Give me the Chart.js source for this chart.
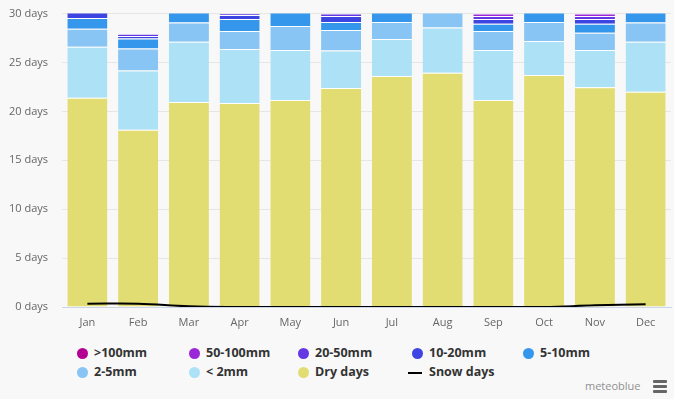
<!DOCTYPE html>
<html>
<head>
<meta charset="utf-8">
<script src="https://cdn.jsdelivr.net/npm/chart.js@4"></script>
<style>
  html, body { margin: 0; padding: 0; background: #f8f8f8; }
  #wrap { position: relative; width: 674px; height: 399px; background: #f8f8f8; font-family: "Open Sans", sans-serif; overflow: hidden; }
  #box { position: absolute; left: 0; top: -7px; width: 674px; height: 349px; }
  #legend { position: absolute; left: 0; top: 345px; width: 674px; }
  .item { position: absolute; font-size: 12.5px; font-weight: bold; color: #333; white-space: nowrap; line-height: 16px; }
  .dot { position: absolute; width: 11px; height: 11px; border-radius: 50%; left: -17px; top: 3px; }
  .dash { position: absolute; width: 14px; height: 2px; background: #000; left: -21px; top: 8px; }
  #credit { position: absolute; left: 585px; top: 378px; font-size: 11px; color: #909090; }
  #burger { position: absolute; left: 653px; top: 380px; width: 14px; }
  #burger div { height: 3px; background: #666; margin-bottom: 2px; border-radius: 1px; }
</style>
</head>
<body>
<div id="wrap">
  <div id="box"><canvas id="chart"></canvas></div>
  <div id="legend"></div>
  <div id="credit">meteoblue</div>
  <div id="burger"><div></div><div></div><div></div></div>
</div>
<script>
// month labels
const months = ["Jan", "Feb", "Mar", "Apr", "May", "Jun", "Jul", "Aug", "Sep", "Oct", "Nov", "Dec"];

// days per month in each precipitation class
const dryDays   = [21.4, 18.13, 20.95, 20.85, 21.16, 22.38, 23.61, 23.95, 21.16, 23.71, 22.48, 22.01];
const below2mm  = [5.2, 6.05, 6.16, 5.54, 5.13, 3.84, 3.8, 4.62, 5.13, 3.5, 3.81, 5.1];
const mm2to5    = [1.84, 2.25, 1.97, 1.84, 2.45, 2.11, 1.74, 1.8, 1.94, 1.94, 1.74, 1.97];
const mm5to10   = [1.1, 1.02, 1.3, 1.23, 1.5, 0.82, 1.2, 0.5, 0.72, 1.2, 0.92, 1.2];
const mm10to20  = [0.9, 0.27, 0.5, 0.4, 0.5, 0.61, 0.5, 0.1, 0.51, 0.5, 0.51, 0.5];
const mm20to50  = [0.45, 0.21, 0.1, 0.14, 0.2, 0.24, 0.1, 0.03, 0.3, 0.1, 0.3, 0.2];
const mm50to100 = [0.1, 0, 0.02, 0, 0.05, 0, 0.05, 0, 0.24, 0.05, 0.24, 0.02];
const over100mm = [0.01, 0, 0, 0, 0.01, 0, 0, 0, 0, 0, 0, 0];
const snowDays  = [0.34, 0.34, 0.07, 0, 0, 0, 0, 0, 0, 0, 0.17, 0.27];

const yTicks = [0, 5, 10, 15, 20, 25, 30];

// bottom of the stack first
const series = [
    { name: "Dry days", data: dryDays, color: "#e2dd73" },
    { name: "< 2mm", data: below2mm, color: "#ade2f6" },
    { name: "2-5mm", data: mm2to5, color: "#88c5f4" },
    { name: "5-10mm", data: mm5to10, color: "#3497ec" },
    { name: "10-20mm", data: mm10to20, color: "#3c44e2" },
    { name: "20-50mm", data: mm20to50, color: "#6338e3" },
    { name: "50-100mm", data: mm50to100, color: "#9a28d8" },
    { name: ">100mm", data: over100mm, color: "#b40090" }
];

const datasets = series.map(s => ({
    type: "bar",
    label: s.name,
    data: s.data,
    backgroundColor: s.color,
    borderColor: "#ffffff",
    borderWidth: { top: 1, left: 0, right: 0, bottom: 0 },
    borderSkipped: false,
    categoryPercentage: 1,
    barPercentage: 0.79,
    order: 1
}));

datasets.push({
    type: "line",
    label: "Snow days",
    data: snowDays,
    borderColor: "#000000",
    borderWidth: 2,
    pointRadius: 0,
    tension: 0.4,
    fill: false,
    order: 0
});

const ctx = document.getElementById("chart").getContext("2d");
new Chart(ctx, {
    data: { labels: months, datasets: datasets },
    options: {
        responsive: true,
        maintainAspectRatio: false,
        animation: false,
        layout: { padding: { left: 0, right: 3, top: 5, bottom: 0 } },
        plugins: { legend: { display: false }, tooltip: { enabled: false } },
        scales: {
            x: {
                stacked: true,
                grid: { display: false, drawTicks: false },
                border: { display: true, color: "#ccd6eb" },
                ticks: { color: "#666", font: { family: "Open Sans", size: 11 }, padding: 9 },
                afterFit: s => { s.height = 35; }
            },
            y: {
                stacked: true,
                min: 0,
                max: 30,
                afterBuildTicks: s => { s.ticks = yTicks.map(v => ({ value: v })); },
                grid: { color: "#e6e6e6", drawTicks: false },
                border: { display: false },
                ticks: {
                    color: "#666",
                    font: { family: "Open Sans", size: 11 },
                    padding: 14,
                    callback: v => v + " days"
                },
                afterFit: s => { s.width = 62; }
            }
        }
    }
});

// legend laid out in columns like the original
const legendOrder = [">100mm", "50-100mm", "20-50mm", "10-20mm", "5-10mm", "2-5mm", "< 2mm", "Dry days", "Snow days"];
const colX = [94, 206, 315, 429, 540];
const legend = document.getElementById("legend");
legendOrder.forEach((name, i) => {
    const el = document.createElement("div");
    el.className = "item";
    el.style.left = colX[i % 5] + "px";
    el.style.top = (Math.floor(i / 5) * 19) + "px";
    const s = series.find(x => x.name === name);
    const mark = document.createElement("span");
    if (s) {
        mark.className = "dot";
        mark.style.background = s.color;
    } else {
        mark.className = "dash";
    }
    el.appendChild(mark);
    el.appendChild(document.createTextNode(name));
    legend.appendChild(el);
});
</script>
</body>
</html>
